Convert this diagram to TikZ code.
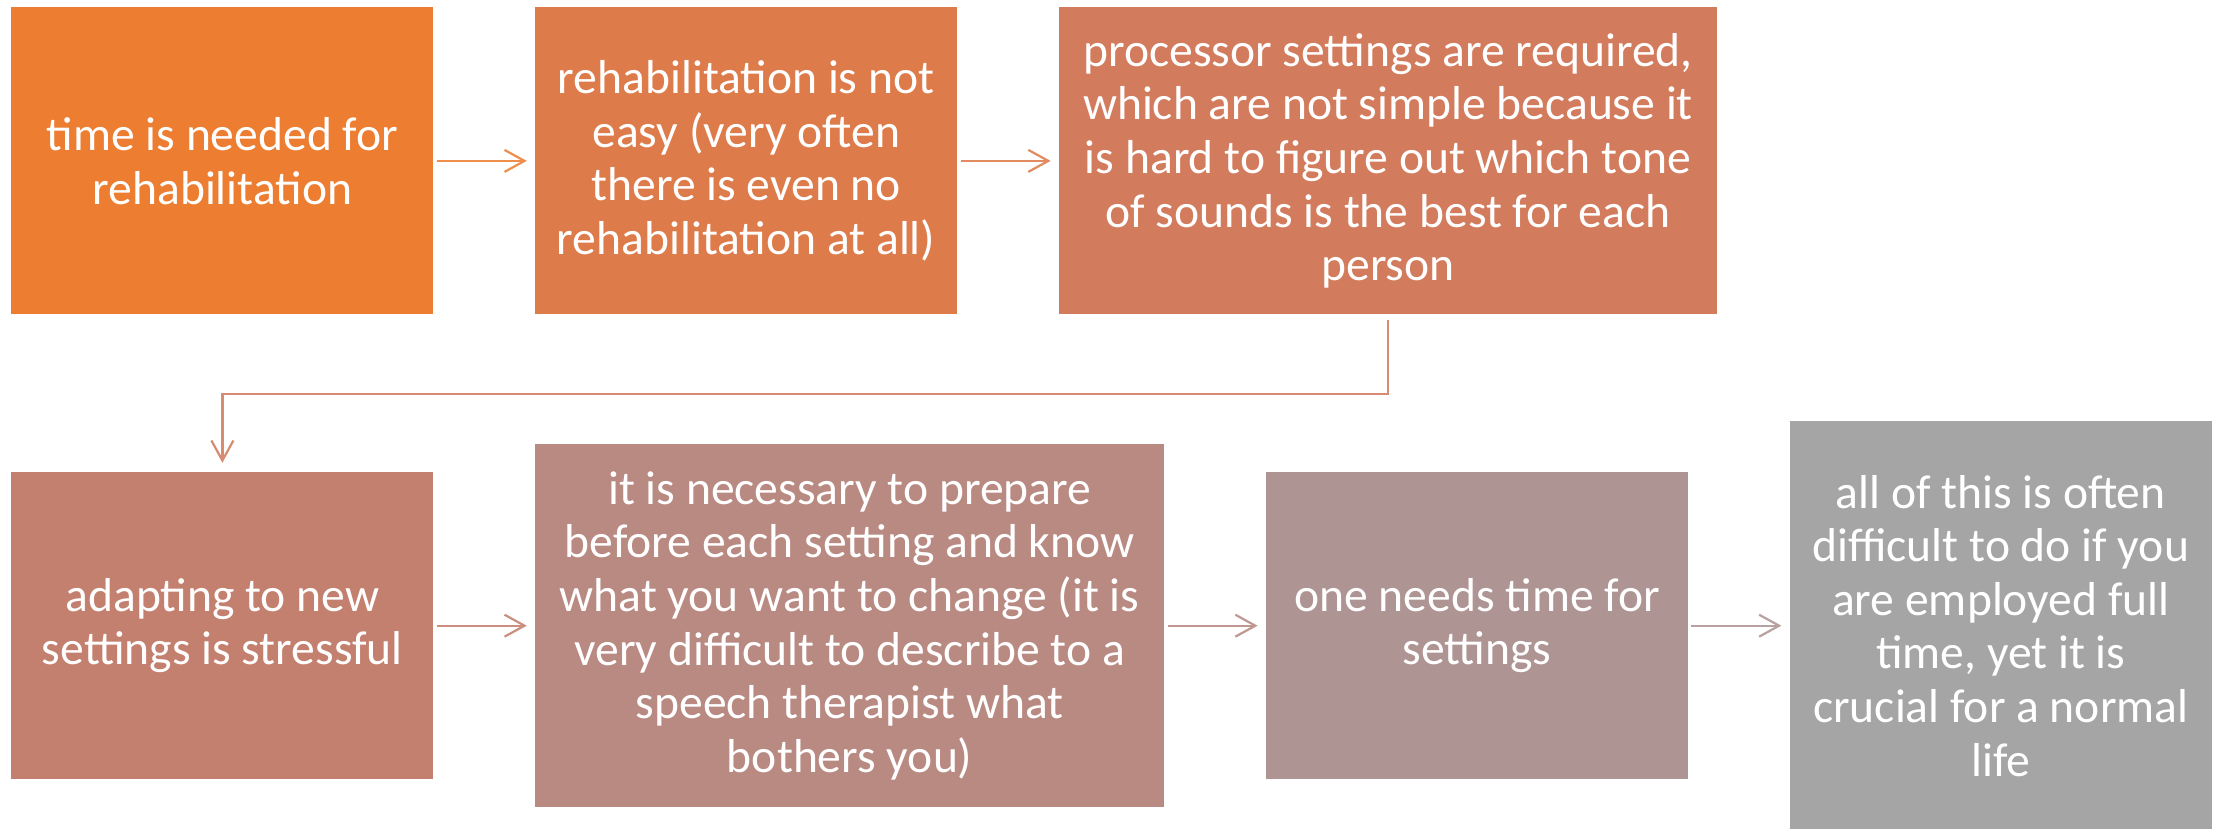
\documentclass[tikz,border=0pt]{standalone}
\usepackage{fontspec}
\setmainfont{Carlito}
\usepackage{tikz}
\usetikzlibrary{arrows.meta,positioning}
\definecolor{stepA}{RGB}{237,125,49}
\definecolor{stepB}{RGB}{222,123,74}
\definecolor{stepC}{RGB}{211,123,93}
\definecolor{stepD}{RGB}{196,128,111}
\definecolor{stepE}{RGB}{185,138,130}
\definecolor{stepF}{RGB}{174,149,148}
\definecolor{stepG}{RGB}{165,165,165}
\tikzset{
  every picture/.style = {
    >={Straight Barb[length=10pt,width=11pt]},
    node distance = 78.5pt and 50.5pt,
  }
  ,
  box/.style = {
    rectangle,
    fill = #1,
    text = white,
    align = center,
    inner sep = 0pt,
    font = \fontsize{23.8}{26.8}\selectfont,
    minimum width = 211pt,
    minimum height = 153.5pt
  }
  , % arrows between the boxes
  link/.style = {
    ->,
    draw = #1!88!white,
    line width = 1.1pt,
    shorten < = 1.5pt,
    shorten > = 4pt
  }
}
\begin{document}
\begin{tikzpicture}
\useasboundingbox (0,0) rectangle (1109pt,-414.5pt);
% first row
\node [box=stepA, anchor=north west] (b1) at (5.5pt,-3.5pt)
  {time is needed for\\rehabilitation};
\node [box=stepB, right = of b1] (b2)
  {rehabilitation is not\\easy (very often\\there is even no\\rehabilitation at all)};
\node [box=stepC, right = of b2, minimum width = 329pt] (b3)
  {processor settings are required,\\which are not simple because it\\is hard to figure out which tone\\of sounds is the best for each\\person};
% second row
\node [box=stepD, below = of b1] (b4)
  {adapting to new\\settings is stressful};
\node [box=stepE, right = of b4, minimum width = 314.5pt, minimum height = 181.5pt] (b5)
  {it is necessary to prepare\\before each setting and know\\what you want to change (it is\\very difficult to describe to a\\speech therapist what\\bothers you)};
\node [box=stepF, right = of b5] (b6)
  {one needs time for\\settings};
\node [box=stepG, right = of b6, minimum height = 205pt] (b7)
  {all of this is often\\difficult to do if you\\are employed full\\time, yet it is\\crucial for a normal\\life};

\draw [link=stepA] (b1) -- (b2);
\draw [link=stepB] (b2) -- (b3);
\draw [link=stepC, shorten < = 2.5pt, shorten > = 4.5pt]
  (b3.south) -- ++(0,-39.5pt) -| (b4.north);
\draw [link=stepD] (b4) -- (b5);
\draw [link=stepE] (b5) -- (b6);
\draw [link=stepF] (b6) -- (b7);
\end{tikzpicture}
\end{document}
